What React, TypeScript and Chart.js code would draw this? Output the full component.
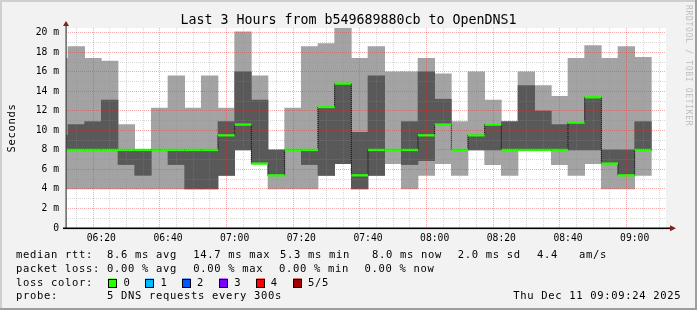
import React, { useEffect, useRef } from 'react';
import { Chart, registerables } from 'chart.js';

Chart.register(...registerables);

// ---- data (milliseconds) ----
const slotStarts = [
  '06:05', '06:10', '06:15', '06:20', '06:25', '06:30', '06:35', '06:40', '06:45', '06:50',
  '06:55', '07:00', '07:05', '07:10', '07:15', '07:20', '07:25', '07:30', '07:35', '07:40',
  '07:45', '07:50', '07:55', '08:00', '08:05', '08:10', '08:15', '08:20', '08:25', '08:30',
  '08:35', '08:40', '08:45', '08:50', '08:55', '09:00',
];
const minRtt = [
  4, 4, 4, 4, 4, 4, 4, 4, 4, 4,
  5.4, 8, 6.6, 4, 4, 4, 5.4, 6.6, 4, 5.4,
  6.6, 4, 5.4, 6.6, 5.4, 8, 6.5, 5.4, 8, 8,
  6.5, 5.4, 6.6, 4, 4, 5.4,
];
const lowRtt = [
  8, 8, 8, 8, 6.5, 5.4, 8, 6.5, 4, 4,
  5.4, 8, 6.6, 5.4, 8, 6.5, 5.4, 6.6, 4, 5.4,
  8, 6.5, 6.9, 10.6, 8, 8, 8, 8, 8, 8,
  8, 8, 8, 6.6, 5.4, 8,
];
const medianRtt = [
  8, 8, 8, 8, 8, 8, 8, 8, 8, 8,
  9.5, 10.6, 6.6, 5.4, 8, 8, 12.4, 14.8, 5.4, 8,
  8, 8, 9.5, 10.6, 8, 9.5, 10.6, 8, 8, 8,
  8, 10.8, 13.4, 6.6, 5.4, 8,
];
const highRtt = [
  9.5, 10.6, 10.9, 13.1, 8, 8, 8, 8, 8, 8,
  10.9, 16, 13.1, 8, 8, 8, 12.4, 14.8, 9.8, 15.6,
  8, 10.9, 16, 13.2, 8, 9.5, 10.6, 10.9, 14.6, 12,
  10.6, 10.8, 13.4, 8, 8, 10.9,
];
const maxRtt = [
  17.4, 18.6, 17.4, 17.1, 10.6, 8, 12.3, 15.6, 12.3, 15.6,
  12.3, 20.1, 15.6, 8, 12.3, 18.6, 18.9, 20.8, 17.4, 18.6,
  16, 16, 17.4, 15.8, 10.9, 16, 13.1, 10.9, 16, 14.6,
  13.5, 17.4, 18.7, 17.4, 18.6, 17.5,
];

const windowStart = '06:09:24';
const windowEnd = '09:09:24';
const yTickValues = [0, 2, 4, 6, 8, 10, 12, 14, 16, 18, 20];

// ---- text ----
const titleText = 'Last 3 Hours from b549689880cb to OpenDNS1';
const yAxisTitle = 'Seconds';
const watermark = 'RRDTOOL / TOBI OETIKER';
const rttLabels = ['median rtt:', '8.6 ms avg', '14.7 ms max', '5.3 ms min', '8.0 ms now', '2.0 ms sd', '4.4', 'am/s'];
const lossLabels = ['packet loss:', '0.00 % avg', '0.00 % max', '0.00 % min', '0.00 % now'];
const lossColorTitle = 'loss color:';
const lossColorNames = ['0', '1', '2', '3', '4', '5/5'];
const lossColors = ['#26ff00', '#00b8ff', '#0059ff', '#7e00ff', '#ff0000', '#a10000'];
const probeLabels = ['probe:', '5 DNS requests every 300s'];
const dateText = 'Thu Dec 11 09:09:24 2025';

// ---- layout ----
const W = 697;
const H = 310;
const rttX = [16, 107, 193.3, 280, 372, 457.8, 536.9, 579.1];
const lossX = [16, 107, 193.3, 279, 364.4];
const boxX = [108, 145.3, 182.2, 219, 256.4, 293.3];
const boxLabelX = [123.6, 160.4, 197, 234.2, 270.7, 308];
const rowY = [258.3, 271.7, 285.5, 299.3];

const toMin = (s: string) => {
  const p = s.split(':').map(Number);
  return p[0] * 60 + p[1] + (p[2] || 0) / 60;
};
const fmt = (m: number) => {
  const h = Math.floor(m / 60);
  const mm = Math.round(m % 60);
  return `${String(h).padStart(2, '0')}:${String(mm).padStart(2, '0')}`;
};

const MONO = '"DejaVu Sans Mono", monospace';

function setSpacing(ctx: any, v: string) {
  if ('letterSpacing' in ctx) ctx.letterSpacing = v;
}

const decor = {
  id: 'decor',
  beforeDraw(chart: any) {
    const { ctx, chartArea: a } = chart;
    ctx.save();
    ctx.fillStyle = '#f2f2f2';
    ctx.fillRect(0, 0, W, H);
    ctx.fillStyle = '#ffffff';
    ctx.fillRect(a.left, a.top, a.right - a.left, a.bottom - a.top);
    ctx.restore();
  },
  afterDraw(chart: any) {
    const { ctx, chartArea: a } = chart;
    ctx.save();
    // axes
    ctx.fillStyle = '#404040';
    ctx.fillRect(a.left - 0.5, a.top - 3, 1.2, a.bottom - a.top + 4);
    ctx.fillStyle = '#000000';
    ctx.fillRect(a.left - 3, a.bottom - 0.5, a.right - a.left + 8, 1.6);
    // arrows
    ctx.fillStyle = '#7f1f1f';
    ctx.beginPath();
    ctx.moveTo(a.left, a.top - 7);
    ctx.lineTo(a.left - 3, a.top - 2);
    ctx.lineTo(a.left + 3, a.top - 2);
    ctx.closePath();
    ctx.fill();
    ctx.beginPath();
    ctx.moveTo(a.right + 10, a.bottom + 0.3);
    ctx.lineTo(a.right + 4, a.bottom - 2.7);
    ctx.lineTo(a.right + 4, a.bottom + 3.3);
    ctx.closePath();
    ctx.fill();

    // title
    ctx.fillStyle = '#000';
    ctx.font = `13.3px ${MONO}`;
    ctx.textAlign = 'center';
    ctx.textBaseline = 'alphabetic';
    ctx.fillText(titleText, 348.5, 24);

    // y axis title
    ctx.save();
    ctx.font = `10.5px ${MONO}`;
    setSpacing(ctx, '0.68px');
    ctx.translate(12.5, 128);
    ctx.rotate(-Math.PI / 2);
    ctx.textAlign = 'center';
    ctx.textBaseline = 'middle';
    ctx.fillText(yAxisTitle, 0, 0);
    ctx.restore();

    // watermark
    ctx.save();
    ctx.font = `8px ${MONO}`;
    setSpacing(ctx, '0.7px');
    ctx.fillStyle = '#bdbdbd';
    ctx.translate(688, 5);
    ctx.rotate(Math.PI / 2);
    ctx.textAlign = 'left';
    ctx.textBaseline = 'middle';
    ctx.fillText(watermark, 0, 0);
    ctx.restore();

    // legend
    ctx.font = `10.5px ${MONO}`;
    setSpacing(ctx, '0.68px');
    ctx.textAlign = 'left';
    ctx.textBaseline = 'alphabetic';
    ctx.fillStyle = '#000';
    rttLabels.forEach((t, i) => ctx.fillText(t, rttX[i], rowY[0]));
    lossLabels.forEach((t, i) => ctx.fillText(t, lossX[i], rowY[1]));
    ctx.fillText(lossColorTitle, 16, rowY[2]);
    lossColorNames.forEach((t, i) => {
      ctx.fillStyle = lossColors[i];
      ctx.fillRect(boxX[i], rowY[2] - 7, 8.5, 8.5);
      ctx.strokeStyle = '#000';
      ctx.lineWidth = 1;
      ctx.strokeRect(Math.round(boxX[i]) + 0.5, Math.round(rowY[2] - 7) + 0.5, 8, 8);
      ctx.fillStyle = '#000';
      ctx.fillText(t, boxLabelX[i], rowY[2]);
    });
    ctx.fillText(probeLabels[0], 16, rowY[3]);
    ctx.fillText(probeLabels[1], 107, rowY[3]);
    ctx.fillText(dateText, 513.3, rowY[3]);

    // frame
    ctx.fillStyle = '#cfcfcf';
    ctx.fillRect(0, 0, W, 2);
    ctx.fillRect(0, 0, 2, H);
    ctx.fillStyle = '#9e9e9e';
    ctx.fillRect(0, H - 2, W, 2);
    ctx.fillRect(W - 2, 0, 2, H);
    ctx.restore();
  },
};

export default function App() {
  const ref = useRef<HTMLCanvasElement>(null);

  useEffect(() => {
    if (!ref.current) return;
    const mids = slotStarts.map((s) => toMin(s) + 2.5);
    const light = mids
      .map((x, i) => ({ x, y: [minRtt[i], maxRtt[i]] }))
      .filter((p) => p.y[1] > p.y[0]);
    const dark = mids
      .map((x, i) => ({ x, y: [lowRtt[i], highRtt[i]] }))
      .filter((p) => p.y[1] > p.y[0]);
    const green = mids.map((x, i) => ({ x, y: [medianRtt[i] - 0.12, medianRtt[i] + 0.12] }));
    // step line: value i spans [start_i, start_i + 5)
    const steps = slotStarts.map((s, i) => ({ x: toMin(s), y: medianRtt[i] }));
    steps.push({ x: toMin(slotStarts[slotStarts.length - 1]) + 5, y: medianRtt[medianRtt.length - 1] });

    const xMin = toMin(windowStart);
    const xMax = toMin(windowEnd);
    const barCommon = { grouped: false, barPercentage: 1, categoryPercentage: 1, borderWidth: 0 };

    const chart = new Chart(ref.current, {
      type: 'bar',
      data: {
        datasets: [
          { type: 'bar', data: light as any, backgroundColor: '#a3a3a3', order: 4, ...barCommon } as any,
          { type: 'bar', data: dark as any, backgroundColor: '#595959', order: 3, ...barCommon } as any,
          {
            type: 'line', data: steps as any, stepped: 'before', borderColor: '#000', borderWidth: 1,
            borderDash: [1, 1], pointRadius: 0, fill: false, order: 2,
          } as any,
          { type: 'bar', data: green as any, backgroundColor: '#26ff00', order: 1, inflateAmount: 0, ...barCommon } as any,
        ],
      },
      options: {
        responsive: false,
        animation: false,
        devicePixelRatio: 1,
        layout: { padding: { left: 0, top: 28, right: 31, bottom: 62 } },
        plugins: { legend: { display: false }, tooltip: { enabled: false }, title: { display: false } },
        events: [],
        scales: {
          x: {
            type: 'linear',
            min: xMin,
            max: xMax,
            offset: false,
            afterFit: (s: any) => { s.height = 20; },
            afterBuildTicks: (s: any) => {
              const t = [];
              for (let m = 370; m <= 545; m += 5) t.push({ value: m });
              s.ticks = t;
            },
            grid: {
              z: 1,
              drawTicks: false,
              lineWidth: 1,
              color: (c: any) => (c.tick && c.tick.value % 20 === 0 ? 'rgba(222,48,48,0.4)' : 'rgba(140,140,140,0.35)'),
            },
            border: { display: false, dash: [1, 1] },
            ticks: {
              autoSkip: false,
              maxRotation: 0,
              padding: 5,
              color: '#000',
              font: { family: 'DejaVu Sans Mono', size: 9.7 },
              callback: (v: any) => (Number(v) % 20 === 0 ? fmt(Number(v)) : ''),
            },
          },
          y: {
            type: 'linear',
            min: 0,
            max: 20.5,
            afterFit: (s: any) => { s.width = 66; },
            afterBuildTicks: (s: any) => {
              const t = [];
              for (let v = 0; v <= 20; v += 1) t.push({ value: v });
              s.ticks = t;
            },
            grid: {
              z: 1,
              drawTicks: false,
              lineWidth: 1,
              color: (c: any) => (c.tick && c.tick.value % 2 === 0 ? 'rgba(222,48,48,0.4)' : 'rgba(140,140,140,0.35)'),
            },
            border: { display: false, dash: [1, 1] },
            ticks: {
              autoSkip: false,
              padding: 7,
              color: '#000',
              font: { family: 'DejaVu Sans Mono', size: 9.7 },
              callback: (v: any) => {
                const n = Number(v);
                if (!yTickValues.includes(n)) return '';
                return n === 0 ? '0' : `${n} m`;
              },
            },
          },
        },
      },
      plugins: [decor],
    } as any);

    return () => chart.destroy();
  }, []);

  return (
    <div style={{ position: 'absolute', left: 0, top: 0, width: W, height: H }}>
      <canvas ref={ref} width={W} height={H} style={{ display: 'block', width: W, height: H }} />
    </div>
  );
}
